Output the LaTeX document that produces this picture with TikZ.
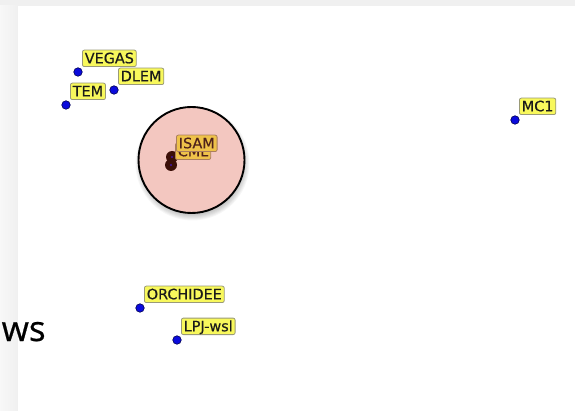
\documentclass[tikz,border=0pt]{standalone}
\usepackage{fontspec}
\newfontfamily\lblfont[FakeBold=0.4]{DejaVu Sans}
\newfontfamily\sidefont[FakeBold=0.6]{Open Sans}
\definecolor{ptblue}{HTML}{0A0ADC}
\definecolor{ptedge}{HTML}{000050}
\definecolor{lblfill}{HTML}{F8F85C}
\definecolor{lbledge}{HTML}{9A9A78}
\definecolor{lbltext}{HTML}{1A1A1A}
\definecolor{regionfill}{HTML}{D7371E}
\definecolor{panelgrey}{HTML}{F0F0F0}
\tikzset{
  pt/.style={circle, fill=ptblue, draw=ptedge, line width=0.6pt, inner sep=0pt, minimum size=8.5pt},
  hotpt/.style={circle, fill=black, inner sep=0pt, minimum size=12pt},
  hotcore/.style={circle, fill=ptblue, inner sep=0pt, minimum size=2.4pt},
  lbl/.style={anchor=south west, fill=lblfill, draw=lbledge, line width=0.8pt,
    rounded corners=2pt, inner xsep=2.4pt, inner ysep=2.3pt,
    text height=10.9pt, text depth=1pt, text=lbltext,
    font=\lblfont\fontsize{14.4}{15}\selectfont}
}
\begin{document}
\begin{tikzpicture}[x=1pt, y=-1pt]
  \useasboundingbox (0,0) rectangle (575,411);
  % window frame and white drawing panel
  \fill[panelgrey] (0,0) rectangle (575,411);
  \shade[left color=panelgrey!50!white, right color=panelgrey] (0,6) rectangle (18,411);
  \fill[white] (18,6) rectangle (575,411);

  % soft shadow under the highlighted region (stacked translucent discs), then a clean white disc
  \foreach \r in {50,51,...,57}
    \fill[black, opacity=0.035] (192.5,163.5) circle[radius=\r];
  \fill[white] (191.5,160) circle[radius=53];

  % model points
  \node[pt] (vegas) at (78,72) {};
  \node[pt] (dlem) at (114,90) {};
  \node[pt] (tem) at (66,105) {};
  \node[pt] (mc1) at (515,120) {};
  \node[pt] (orchidee) at (140,308) {};
  \node[pt] (lpj) at (177,340) {};

  \node[lbl] (vegasl) at ([shift={(4,-5)}]vegas.center) {VEGAS};
  \node[lbl] (dleml) at ([shift={(4,-5)}]dlem.center) {DLEM};
  \node[lbl] (teml) at ([shift={(4,-5)}]tem.center) {TEM};
  \node[lbl] (mc1l) at ([shift={(4,-5)}]mc1.center) {MC1};
  \node[lbl] (orchideel) at ([shift={(4,-5)}]orchidee.center) {ORCHIDEE};
  \node[lbl] (lpjl) at ([shift={(4,-5)}]lpj.center) {LPJ-wsl};

  % selected points inside the region
  \node[hotpt] (cml) at (171,165) {};
  \node[hotpt] (isam) at (172,157) {};
  \node[hotcore] at (cml.center) {};
  \node[hotcore] at (isam.center) {};
  \node[lbl] (cmll) at ([shift={(4,-5)}]cml.center) {CML};
  \node[lbl] (isaml) at ([shift={(4,-5)}]isam.center) {ISAM};

  % translucent selection region drawn over its contents
  \fill[regionfill, fill opacity=0.28] (191.5,160) circle[radius=53];
  \draw[black, line width=1.9pt] (191.5,160) circle[radius=53];

  % clipped caption at the left edge
  \node[anchor=base west, inner sep=0pt, font=\sidefont\fontsize{35}{37}\selectfont] (ws) at (1.5,341) {ws};
\end{tikzpicture}
\end{document}
